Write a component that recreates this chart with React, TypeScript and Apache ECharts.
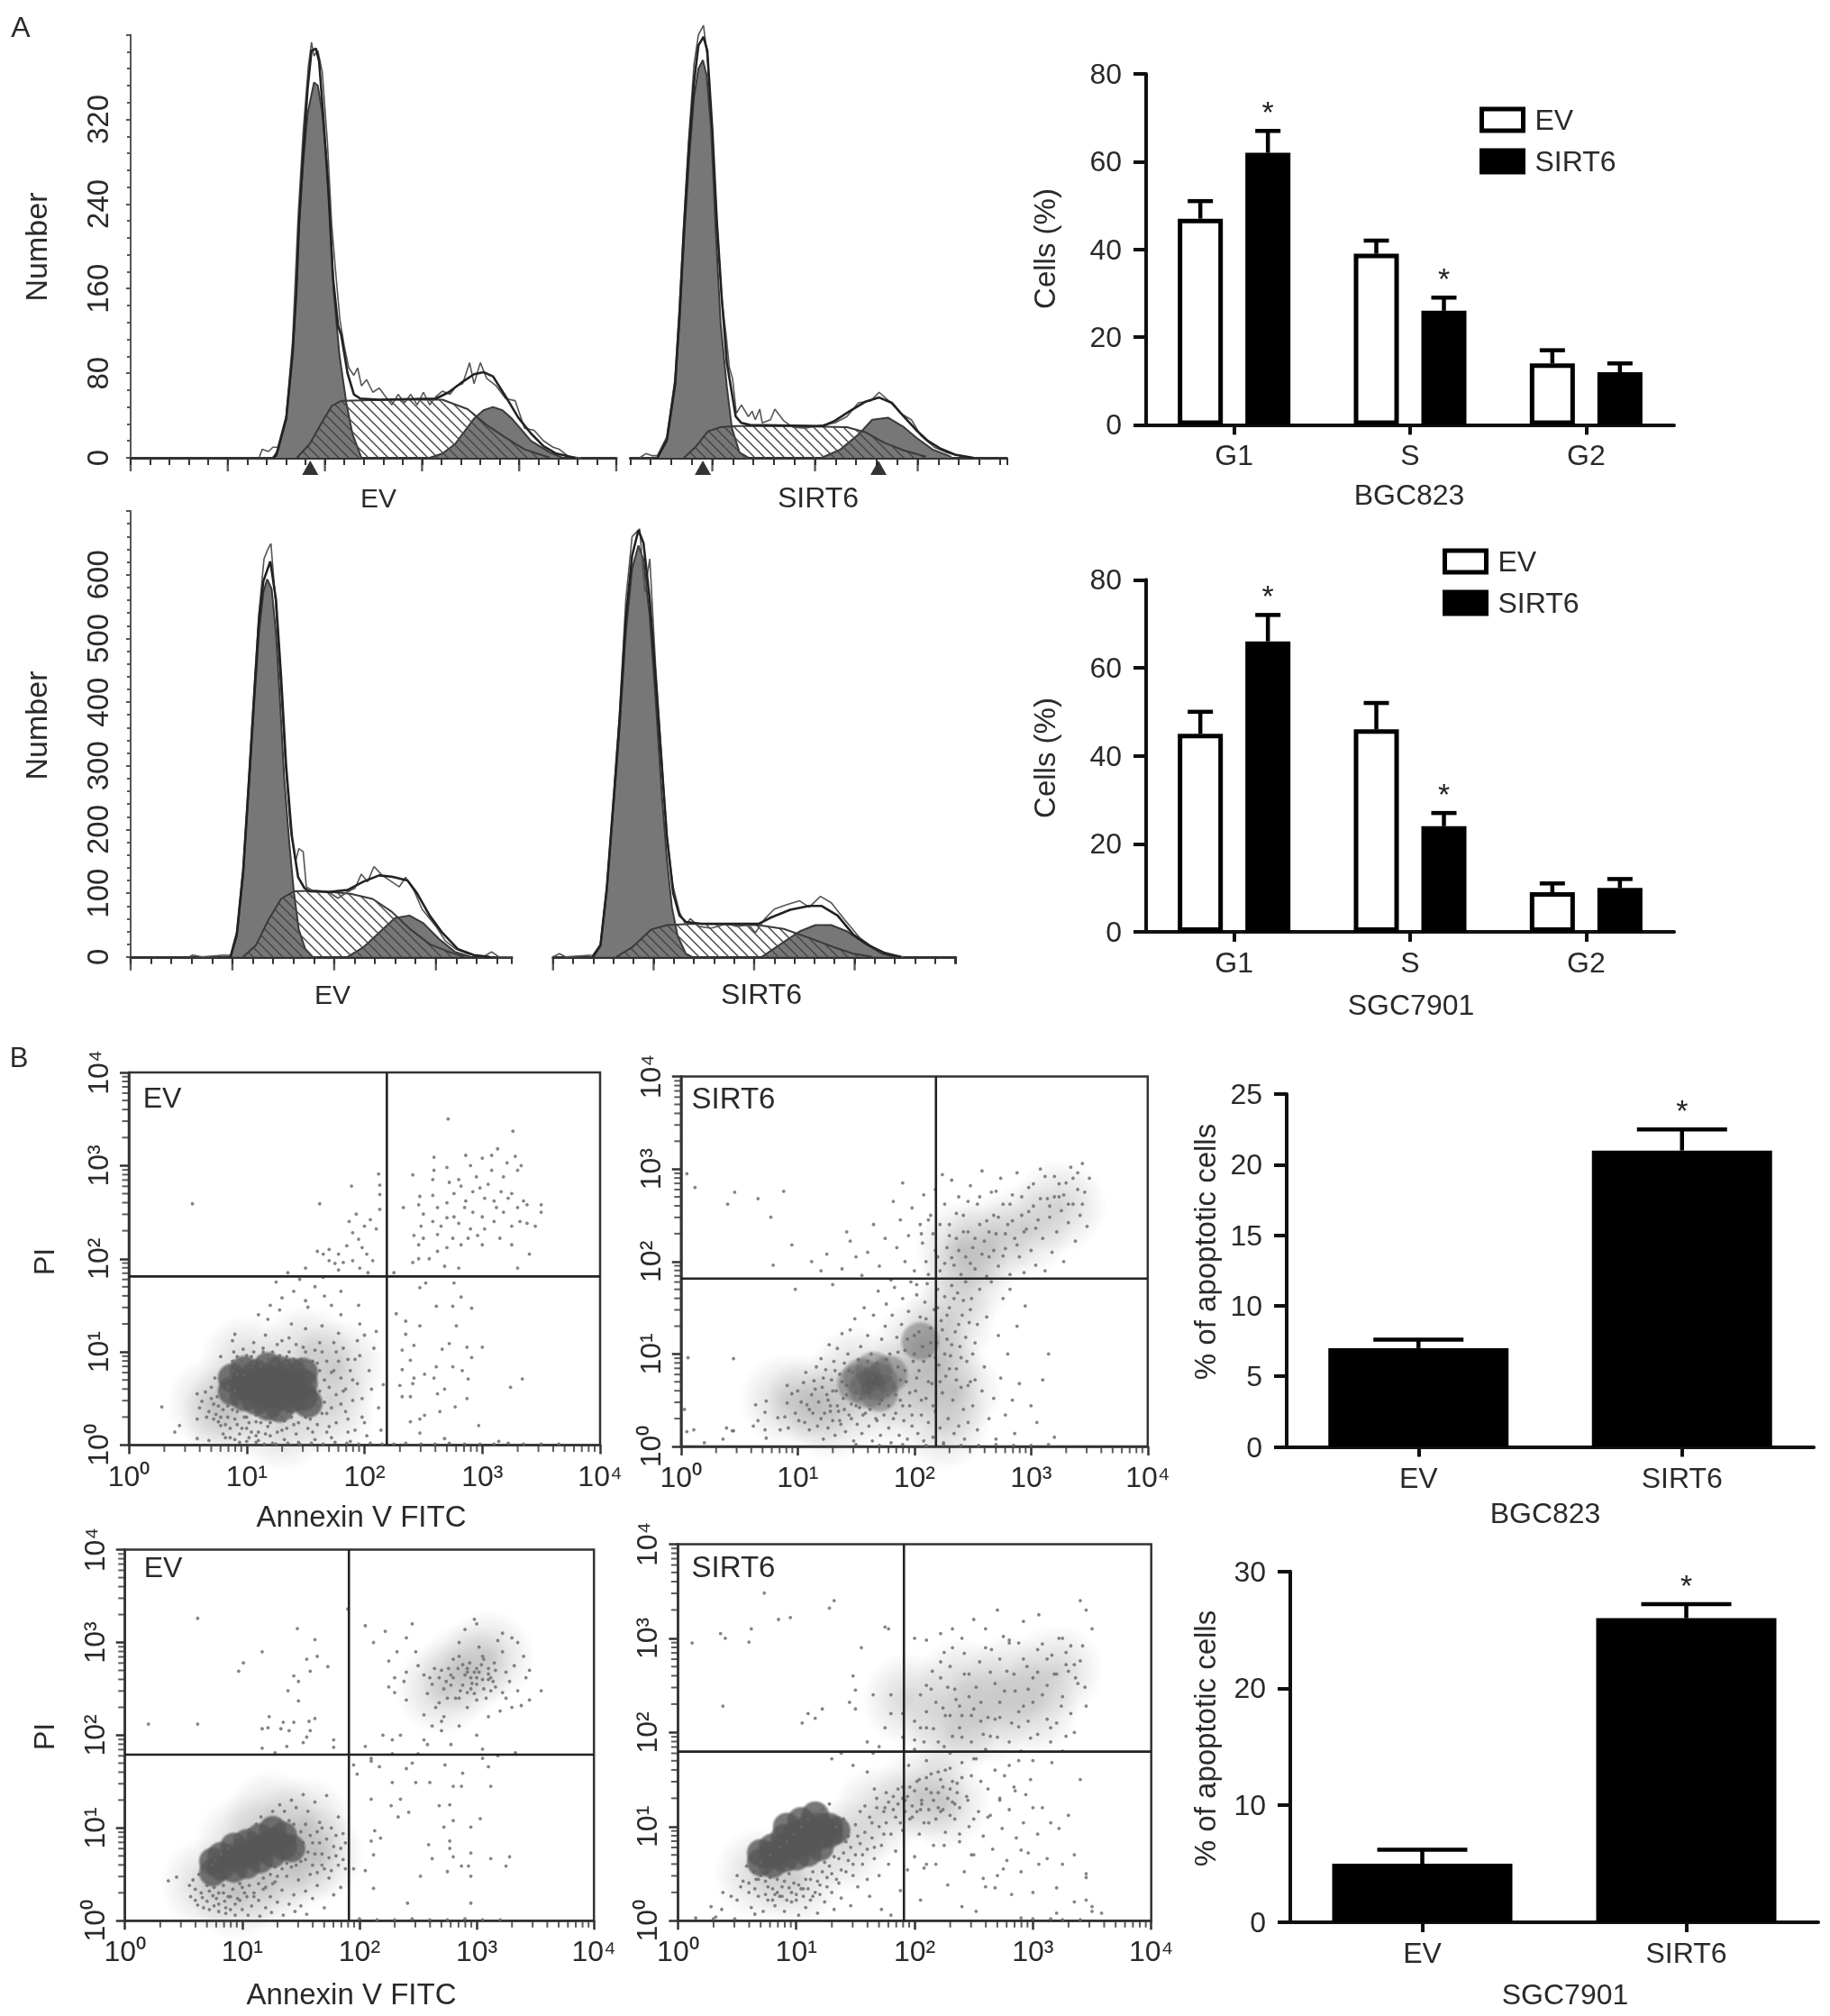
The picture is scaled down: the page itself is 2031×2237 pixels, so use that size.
import React, { useEffect, useRef } from "react";
import * as echarts from "echarts";

const FONT = '"Liberation Sans", Arial, sans-serif';
const INK = "#2a2a2a";

// ---------- Panel A: DNA histograms. [channel, cell count]
const a1G1 = [[225,0],[233,7],[246,37],[256,98],[262,158],[266,219],[273,280],[280,326],[290,355],[296,352],[303,326],[310,280],[316,219],[321,158],[330,98],[341,52],[351,22],[365,0]];
const a1S = [[263,0],[283,13],[303,34],[318,49],[333,54],[413,55],[493,55],[533,46],[563,31],[593,19],[623,8],[663,0]];
const a1G2 = [[473,0],[493,4],[513,13],[543,37],[558,45],[573,48],[588,45],[603,37],[633,16],[663,5],[683,0]];
const a1Fit = [[225,0],[230,2],[246,37],[256,98],[262,158],[266,219],[273,290],[280,350],[286,385],[293,387],[298,375],[305,320],[313,250],[320,170],[328,125],[333,116],[343,80],[353,60],[363,56],[393,55],[483,56],[503,62],[523,71],[543,79],[558,81],[573,77],[593,58],[613,38],[633,23],[653,11],[673,4],[703,0]];
const a1Raw = [[203,0],[208,8],[218,6],[225,10],[233,10],[246,40],[256,110],[265,230],[273,310],[281,370],[286,393],[290,380],[296,385],[303,365],[311,300],[318,220],[325,170],[331,130],[338,105],[345,85],[353,78],[359,85],[365,68],[373,74],[383,62],[393,66],[403,58],[413,50],[423,60],[433,52],[443,60],[453,50],[463,62],[473,50],[483,58],[493,63],[505,60],[515,68],[525,70],[536,90],[543,70],[553,90],[563,75],[578,68],[593,56],[608,54],[623,28],[638,26],[653,16],[668,10],[678,8],[693,1],[713,0]];
const a1Marks = [284];
const a1Major = [0,153.6,307.2,460.8,614.4,768];

const a2G1 = [[43,0],[58,16],[71,67],[78,128],[85,204],[93,280],[101,341],[108,368],[115,376],[121,362],[128,311],[135,219],[143,128],[153,67],[161,28],[173,5],[188,0]];
const a2S = [[85,0],[103,10],[123,25],[143,29],[168,30],[253,30],[343,29],[373,24],[403,14],[433,7],[468,1]];
const a2G2 = [[303,0],[333,8],[363,23],[383,36],[408,38],[433,29],[453,19],[478,8],[508,1]];
const a2Fit = [[43,0],[58,17],[71,70],[78,135],[85,215],[93,295],[101,355],[108,390],[116,398],[122,385],[130,310],[137,225],[145,150],[153,90],[167,39],[176,33],[190,31],[305,30],[324,35],[347,44],[372,53],[394,57],[414,52],[433,39],[453,26],[471,16],[490,9],[514,3],[543,0]];
const a2Raw = [[15,0],[25,4],[35,2],[43,2],[58,20],[71,75],[78,145],[85,225],[93,305],[101,372],[108,400],[116,409],[122,380],[130,300],[138,215],[145,150],[152,115],[157,85],[162,75],[168,42],[176,50],[187,39],[193,44],[198,36],[205,46],[209,33],[222,36],[229,46],[243,35],[257,29],[276,28],[305,31],[324,33],[343,39],[361,52],[381,54],[394,62],[411,53],[428,42],[445,36],[460,21],[481,10],[500,5],[521,2],[533,0]];
const a2Marks = [115,393];
const a2Major = [130,292.5,455];

const a3G1 = [[158,0],[168,33],[178,129],[188,280],[196,407],[203,508],[210,573],[216,593],[223,578],[230,508],[236,407],[243,280],[251,179],[258,104],[266,43],[276,13],[288,0]];
const a3S = [[178,0],[198,18],[218,58],[238,91],[258,103],[293,104],[348,99],[383,91],[413,71],[443,43],[473,20],[503,8],[528,0]];
const a3G2 = [[343,0],[368,15],[393,38],[418,61],[441,65],[463,53],[488,28],[513,8],[538,0]];
const a3Fit = [[158,0],[168,36],[178,135],[188,290],[196,420],[203,530],[210,590],[221,621],[230,560],[238,440],[246,300],[255,190],[265,125],[275,108],[283,103],[313,102],[343,105],[368,118],[393,128],[413,126],[438,120],[453,100],[473,65],[493,38],[518,12],[543,3],[568,0]];
const a3Raw = [[93,0],[98,3],[113,0],[138,2],[148,3],[158,2],[168,40],[178,140],[188,300],[196,430],[203,540],[211,625],[217,640],[222,649],[229,560],[237,430],[245,300],[253,200],[261,150],[266,170],[273,165],[278,110],[288,104],[313,102],[328,92],[343,102],[355,108],[365,130],[375,118],[385,142],[398,128],[413,118],[425,110],[435,125],[448,105],[461,75],[483,48],[498,25],[515,12],[533,5],[558,0],[571,8],[583,0],[603,0]];
const a3Major = [0,161,322,483];

const a4G1 = [[63,0],[75,18],[85,104],[97,255],[105,356],[115,508],[125,609],[135,646],[143,624],[153,533],[162,407],[172,255],[180,154],[188,78],[197,33],[210,5],[220,0]];
const a4S = [[100,0],[125,15],[155,43],[180,50],[225,52],[325,50],[365,44],[405,30],[445,15],[475,5],[505,0]];
const a4G2 = [[330,0],[360,20],[390,40],[415,50],[440,50],[465,40],[490,23],[520,5],[540,0]];
const a4Fit = [[63,0],[75,18],[85,108],[97,262],[105,370],[115,530],[125,630],[135,670],[143,650],[153,560],[162,440],[172,300],[180,190],[190,100],[200,65],[210,55],[235,52],[325,52],[345,62],[375,74],[405,80],[425,80],[450,65],[475,35],[500,18],[525,6],[550,0]];
const a4Raw = [[0,0],[10,5],[20,0],[50,2],[63,3],[75,20],[85,110],[97,270],[105,380],[115,560],[125,660],[137,672],[145,573],[153,625],[162,460],[172,310],[180,190],[190,110],[200,70],[210,50],[217,60],[230,48],[250,45],[275,52],[290,48],[310,50],[320,38],[335,60],[350,75],[370,82],[390,88],[405,78],[423,95],[440,85],[460,60],[485,30],[510,12],[535,3],[555,0]];
const a4Major = [0,159,318,477];

// ---------- Panel A: bar charts
const phases = ["G1","S","G2"];
const bgcEV = [47,39,14];
const bgcEVErr = [4,3,3];
const bgcSIRT = [62,26,12];
const bgcSIRTErr = [5,3,2];
const bgcStars = [1,1,0];
const sgcEV = [45,46,9];
const sgcEVErr = [5,6,2];
const sgcSIRT = [66,24,10];
const sgcSIRTErr = [6,3,2];
const sgcStars = [1,1,0];

// ---------- Panel B: bar charts
const groups = ["EV","SIRT6"];
const apoBgc = [7,21];
const apoBgcErr = [0.6,1.5];
const apoBgcStars = [0,1];
const apoSgc = [5,26];
const apoSgcErr = [1.2,1.2];
const apoSgcStars = [0,1];

// ---------- Panel B: dot plots, in hundredths of a decade: x, y, x, y ...
const decadeLabels = ["10\u2070","10\u00b9","10\u00b2","10\u00b3","10\u2074"];
const minorDecades = [0.301,0.477,0.602,0.699,0.778,0.845,0.903,0.954];

const s1Gate = [2.19,1.81];
const s1Core = [88,58,88,72,98,52,98,65,98,80,108,48,108,62,108,76,118,42,118,56,118,70,118,84,128,40,128,54,128,68,128,80,138,50,138,64,138,78,148,52,148,66,148,78,152,45];
const s1Halo = [85,35,100,90,130,22,150,100,170,40,178,85,72,45];
const s1Dots = [28,41,39,14,43,21,58,55,58,28,58,7,65,57,68,36,68,5,73,72,75,52,78,21,89,100,90,119,97,103,60,40,62,47,66,30,70,62,72,44,74,33,76,25,78,60,80,38,80,12,82,70,84,48,84,30,86,18,86,8,88,80,90,58,92,36,92,22,94,12,94,3,96,90,98,75,100,30,100,18,102,8,104,95,106,110,108,25,110,14,110,5,112,85,114,100,116,118,118,135,118,20,120,10,122,2,124,88,126,108,128,145,130,30,130,16,132,6,134,95,136,115,138,130,140,22,142,12,144,3,146,92,148,105,150,125,152,148,154,28,156,14,158,6,160,88,162,110,164,128,166,160,168,34,170,20,172,8,174,80,176,100,178,120,180,140,182,58,184,36,186,14,188,4,190,70,192,92,194,112,196,130,198,50,200,24,202,10,204,80,206,60,208,104,210,122,212,40,214,16,216,65,150,155,158,170,172,150,140,165,130,158,120,150,110,140,125,175,135,185,145,178,165,180,180,165,195,150,200,118,88,112,78,95,82,8,90,6,100,4,108,3,115,1,125,1,135,2,145,1,155,2,165,1,175,3,185,2,195,1,205,2,215,1,
 70,50,72,28,76,42,78,30,80,52,82,22,84,42,84,62,86,72,88,38,88,90,90,28,92,76,92,95,94,46,96,84,96,18,98,30,100,88,100,96,102,24,104,14,106,88,106,100,108,32,108,10,110,92,112,24,114,104,116,30,116,12,118,92,120,24,122,100,124,28,126,14,128,96,130,112,132,26,134,88,134,18,136,100,138,30,140,92,142,108,144,24,146,36,148,90,150,30,150,100,152,18,154,38,156,90,158,102,160,42,160,22,162,58,162,80,164,34,164,100,166,46,166,70,168,90,168,14,170,62,172,40,172,78,174,110,176,24,176,54,178,90,180,44,180,72,182,104,184,60,186,28,186,92,188,80,190,48,192,16,194,66,196,96,198,30,
 227,141,235,133,235,119,232,102,242,107,247,169,252,174,276,174,282,159,261,149,275,149,291,147,278,128,247,128,272,109,266,103,287,105,300,105,291,94,239,91,232,81,261,84,275,84,283,80,242,72,251,76,259,72,288,71,334,71,324,62,241,66,230,64,268,60,262,55,232,52,239,52,287,50,277,41,264,36,251,32,247,28,239,25,297,21,247,13,268,7,314,4,225,1,235,2,248,1,260,1,272,2,285,1,298,1,310,1,322,2,335,1,350,1,365,1,
 54,259,162,259,271,350,326,337,189,278,212,291,213,279,213,269,213,253,193,248,187,240,190,228,195,221,200,235,205,242,210,232,198,212,202,205,207,198,185,214,178,205,170,210,175,195,182,196,190,198,196,190,170,198,165,205,160,208,150,190,178,188,203,185,225,185,241,196,246,200,
 259,309,286,311,313,318,300,308,308,311,328,310,333,300,330,295,321,303,259,295,258,285,241,290,247,267,246,258,233,255,258,268,262,255,270,260,272,282,270,298,280,285,282,278,276,270,286,262,292,272,298,276,302,265,310,262,316,272,322,265,330,255,338,258,332,240,338,238,350,250,350,258,292,250,300,245,310,240,318,250,325,235,290,232,280,238,270,244,262,226,250,248,248,235,242,225,246,215,255,200,262,208,275,222,288,222,300,215,315,222,325,215,340,205,330,190,280,190,268,192,
 290,300,305,280,285,255,295,288,308,295,318,288,325,270,312,255,276,245,302,232,265,235,258,240,250,222,270,212,282,215,296,225,345,235,335,262];

const s2Gate = [2.185,1.815];
const s2Core = [150,68,160,62,170,70,178,78,165,82,155,75,170,58,205,114];
const s2Halo = [90,50,115,50,130,35,150,80,175,50,190,70,205,110,220,85,230,135,235,60,225,25,240,215,265,220,245,180,295,235,325,260];
const s2Dots = [3,40,11,18,5,16,20,4,36,8,39,20,44,17,66,28,73,9,45,17,62,22,64,45,72,37,73,49,72,18,83,31,85,18,91,47,89,32,91,66,92,20,95,57,98,36,100,60,101,28,103,48,105,69,106,26,107,80,108,45,110,18,112,56,113,36,114,71,116,86,117,22,118,48,120,95,121,64,122,8,123,36,124,83,125,56,126,20,127,110,128,44,129,72,130,28,131,92,132,12,133,60,134,106,135,38,136,78,137,24,138,122,139,52,140,90,141,16,142,66,143,100,144,34,145,126,146,46,147,80,148,6,149,138,150,58,151,24,152,94,153,42,154,108,155,14,156,70,157,150,158,36,159,84,160,120,161,22,162,52,163,100,164,6,165,142,166,64,167,30,168,90,169,168,170,46,171,12,172,116,173,76,174,34,175,130,176,154,177,56,178,20,179,100,180,4,181,142,182,66,183,172,184,36,185,118,186,86,187,12,188,50,189,132,190,160,191,28,192,104,193,70,194,8,195,146,196,44,197,178,198,22,199,92,200,120,201,60,202,164,203,14,204,82,205,140,206,34,207,108,208,6,209,156,210,52,211,176,212,26,213,98,214,128,215,68,216,10,217,148,218,38,219,112,220,170,221,88,222,20,223,136,224,58,225,4,226,162,227,76,228,116,229,30,230,150,231,98,232,174,233,50,234,14,235,124,236,84,237,166,238,22,239,108,240,64,241,142,242,40,243,8,244,178,245,92,246,26,247,134,248,70,249,160,250,44,252,112,254,18,256,170,258,60,260,86,262,140,264,30,266,178,268,52,270,8,272,120,274,74,276,160,278,34,280,100,282,170,284,50,286,14,288,130,290,68,295,152,300,44,305,26,310,72,315,100,320,10,
 5,295,12,280,46,275,66,268,77,248,88,276,79,196,98,170,6,96,45,95,40,262,95,218,112,200,120,190,125,208,130,175,138,192,142,232,145,222,150,205,155,185,160,210,165,240,170,195,175,225,180,180,182,265,185,215,188,245,190,285,192,200,195,228,198,258,200,190,202,175,205,240,207,220,208,272,210,200,212,186,214,250,216,230,218,278,220,205,222,190,224,294,226,262,228,215,230,240,232,288,234,196,236,225,238,270,240,186,242,250,244,205,246,232,248,282,250,215,252,192,254,262,256,240,258,298,260,222,262,184,264,205,266,275,268,250,270,230,272,195,274,290,276,262,278,214,280,240,282,186,284,272,286,225,288,296,290,205,292,250,294,188,296,235,298,280,300,212,302,260,304,196,306,245,308,300,310,225,312,190,314,268,316,248,318,210,320,292,322,232,324,270,326,255,328,200,330,285,332,242,334,302,336,262,338,222,340,296,342,250,344,306,346,275,348,238,350,290,
 110,40,115,62,120,30,122,74,126,50,128,38,130,60,132,82,134,44,136,28,138,70,140,40,142,56,144,82,146,30,148,68,150,44,152,76,154,52,156,34,158,64,160,92,162,40,164,74,166,56,168,28,170,82,172,50,174,66,176,94,178,44,180,74,182,30,184,56,186,102,188,72,190,44,192,82,194,116,196,58,198,34,200,100,202,74,204,124,206,50,208,92,210,138,212,70,214,112,216,44,218,96,220,150,222,70,224,126,226,100,228,142,230,84,232,110,234,160,236,72,238,132,240,96,242,158,244,118,246,66,248,148,250,100,252,72,254,132,
 150,2,170,1,190,2,210,1,225,2,240,1,255,1,270,2,285,1,300,1,315,2,
 206,230,212,245,218,212,222,240,226,198,230,228,232,204,236,252,238,212,242,232,246,265,248,198,252,225,256,270,258,208,262,244,264,232,268,212,270,276,272,248,276,206,278,230,282,262,284,244,288,218,292,270,294,232,298,254,302,284,304,236,308,268,312,292,316,260,320,270,324,284,328,272,332,262,336,290,340,278,344,262];

const s3Gate = [1.91,1.79];
const s3Core = [75,52,75,64,82,58,82,70,93,56,93,68,93,80,104,60,104,72,104,84,115,66,115,78,115,90,126,72,126,85,126,98,135,80,135,92,142,78];
const s3Halo = [70,40,95,30,120,42,145,60,165,72,155,105,125,112,100,85,290,270,270,250,310,285];
const s3Dots = [37,43,44,47,55,38,56,26,58,44,60,34,60,22,62,17,63,50,65,30,66,25,67,14,68,55,70,38,70,21,72,32,72,12,74,60,75,27,76,16,77,65,78,24,80,18,80,10,82,72,84,30,85,21,86,14,86,8,88,78,90,26,90,12,92,84,94,18,94,6,96,90,98,22,100,36,100,12,102,94,104,26,105,6,106,98,108,16,110,30,112,104,114,22,115,5,116,112,118,34,120,14,122,108,124,26,125,9,126,118,128,42,130,20,132,125,134,33,135,6,136,118,138,48,140,18,142,130,144,28,145,10,146,122,148,44,150,16,152,136,154,32,155,7,156,118,158,50,160,24,162,128,164,38,166,106,168,60,170,14,172,135,174,46,176,100,178,28,180,70,182,112,184,36,186,94,188,56,
 72,48,76,36,80,30,84,38,88,26,92,34,96,24,98,40,102,30,106,38,110,26,114,40,118,46,120,36,124,50,126,40,128,58,130,48,132,108,134,56,136,104,138,62,140,108,142,58,144,104,146,60,148,72,150,64,150,96,152,84,154,66,154,104,156,74,158,92,160,60,160,84,162,72,164,96,164,52,166,84,168,72,168,100,170,56,172,88,174,68,176,54,178,80,180,92,182,60,184,78,186,66,188,84,
 195,56,205,54,195,168,198,158,210,175,217,166,228,149,240,164,248,149,260,149,273,168,288,159,280,145,287,145,312,145,310,166,305,175,318,178,333,181,210,131,235,131,227,124,233,112,242,117,268,124,277,125,280,108,272,101,295,101,303,110,213,97,218,89,210,86,212,71,259,82,277,86,277,78,295,73,280,69,262,67,287,59,293,59,312,67,328,69,325,59,275,53,252,48,295,48,212,35,241,19,295,19,200,2,215,1,230,1,245,2,260,1,275,1,290,2,305,1,320,1,
 62,326,20,212,62,212,101,278,97,269,117,290,147,315,162,303,155,282,164,285,173,274,158,269,144,264,148,258,139,248,148,237,123,220,135,214,144,214,157,215,162,218,117,207,122,208,133,207,140,205,158,205,155,198,138,188,152,192,178,195,178,187,117,186,190,336,128,181,
 205,318,212,300,222,312,225,280,232,290,238,258,240,305,245,320,248,290,240,268,225,252,230,262,250,275,255,265,258,245,262,255,268,235,272,220,275,240,278,265,280,282,285,300,290,314,292,272,295,250,298,325,300,255,302,295,305,285,308,240,310,260,312,248,315,278,318,302,320,226,322,290,325,268,328,258,330,305,332,275,335,248,338,232,340,285,342,262,345,270,
 230,246,240,238,255,222,265,230,270,205,262,210,255,195,250,180,245,170,235,200,228,195,205,188,210,172,220,200,228,180,258,190,270,215,278,190,285,210,292,230,300,200,305,185,310,220,285,240,
 285,285,290,265,295,262,300,272,302,268,305,260,292,268,296,256,288,254,280,262,276,272,272,250,268,262,310,272,312,262,306,250,298,245,316,252,322,246,282,240,284,272,288,276,294,278,298,268,300,262,304,276,306,282,310,266,314,258,278,254,274,258,270,270,264,272,260,262,292,246,286,248,300,238,316,270,
 355,248,345,238,335,300,322,310,300,320,325,240,330,230];

const s4Gate = [1.91,1.796];
const s4Core = [70,62,70,72,80,60,80,70,80,78,90,66,90,78,90,88,92,100,100,68,100,80,100,92,104,106,110,72,110,85,110,98,116,112,120,78,120,90,120,100,128,92,128,100,134,96];
const s4Halo = [70,50,100,45,140,80,170,115,205,135,225,125,240,250,280,255,320,265,260,215,230,200,300,225,195,235];
const s4Dots = [15,3,30,2,28,15,32,4,37,12,38,30,48,2,45,26,50,22,50,48,53,36,55,42,58,58,60,30,62,14,65,7,65,34,68,44,70,62,72,10,74,28,76,36,78,70,80,22,82,16,84,30,86,78,88,26,90,10,92,84,94,35,96,20,98,92,100,28,102,6,104,100,106,34,108,14,110,108,112,44,114,26,116,114,118,8,120,38,122,118,124,20,126,46,128,124,130,30,132,12,134,100,136,40,138,24,140,108,142,52,144,90,146,16,148,60,150,102,152,36,154,116,156,70,158,122,160,44,162,26,164,104,166,78,168,130,170,48,172,12,174,92,176,136,178,60,180,6,182,118,184,74,186,140,188,32,190,96,192,128,194,54,196,142,198,110,200,68,202,148,204,92,206,124,208,56,210,152,212,104,214,136,216,80,218,60,220,158,222,116,224,142,226,94,228,38,230,162,232,126,234,108,236,146,238,84,240,168,242,52,244,132,246,100,248,154,250,70,252,172,254,116,256,148,258,90,260,36,262,140,264,112,266,76,268,160,270,48,272,128,274,98,276,154,278,64,280,118,282,28,284,142,286,88,288,170,290,52,292,104,294,134,296,72,298,150,300,30,304,92,308,120,312,66,316,168,320,8,325,60,330,112,335,20,340,150,345,46,350,10,
 12,295,38,228,36,305,40,300,62,310,60,296,73,348,85,320,95,322,105,210,132,340,150,245,155,290,180,240,175,312,178,310,128,332,148,260,110,220,116,215,122,225,130,172,138,178,148,165,165,178,190,220,200,192,210,205,225,185,
 145,232,150,225,165,240,175,205,180,220,170,185,160,190,160,158,166,140,175,120,195,165,205,205,210,250,215,265,222,275,225,285,232,310,228,248,235,235,230,218,238,205,242,262,246,238,250,225,255,275,258,198,262,216,265,288,268,252,272,232,275,302,278,265,282,210,285,244,288,295,292,228,295,270,298,194,300,258,304,288,308,240,312,278,315,205,318,262,322,300,325,238,328,285,332,220,335,272,338,252,342,292,345,228,
 200,300,210,298,222,305,232,290,240,300,250,320,260,310,270,330,280,295,292,318,305,325,325,300,330,265,345,330,340,340,350,310,
 190,195,200,182,210,170,220,190,230,178,240,195,250,172,260,182,270,195,280,165,290,180,300,170,315,190,325,180,335,200,
 190,130,205,118,220,120,230,140,245,128,250,108,262,110,272,130,285,138,300,120,315,104,322,98,335,70,345,50,345,22,358,8,350,15,340,1,315,2,325,1,300,2,290,3,
 210,60,225,80,238,92,248,70,258,45,275,55,290,75,305,60,320,35,205,22,240,15,252,10,268,35,
 60,40,64,52,66,44,68,26,70,48,72,54,74,42,76,22,78,46,80,34,82,28,84,44,86,26,88,36,90,42,92,22,94,50,96,30,98,40,100,22,102,38,104,34,106,26,108,44,110,34,112,22,114,52,116,30,118,42,120,28,122,52,124,62,126,36,128,58,130,50,132,68,134,44,136,66,138,54,140,72,142,84,144,64,146,78,148,48,150,70,152,90,154,82,156,60,158,94,160,76,162,110,164,88,166,66,168,120,170,100,172,80,174,116,176,104,178,126,180,92,182,132,184,110,186,124,188,104,190,142,192,116,194,132,196,108,198,122,200,138,202,116,204,150,206,128,208,104,210,140,212,118,214,156,216,128,218,108,220,136,222,150,224,118,226,160,228,130,230,112,232,148,234,124,236,136,238,120,240,152,
 205,240,210,222,214,246,218,232,222,258,226,218,230,270,234,246,238,228,242,284,246,262,248,218,252,248,256,232,260,290,264,264,268,214,272,278,276,244,280,298,284,262,288,222,292,278,296,246,300,232,304,264,308,294,312,250,316,282,320,262,324,228,328,272,332,292,336,258,340,276,344,248,
 200,212,208,190,216,204,224,226,232,196,240,218,248,190,256,212,264,196,272,216,280,190,288,206,296,212,304,198,312,214,320,210,328,196];

const pairs = (flat: number[]) => {
  const out: number[][] = [];
  for (let i = 0; i < flat.length; i += 2) out.push([flat[i] / 100, flat[i + 1] / 100]);
  return out;
};

const hatchTile = () => {
  const c = document.createElement("canvas");
  c.width = 11;
  c.height = 11;
  const g = c.getContext("2d")!;
  g.strokeStyle = "#444";
  g.lineWidth = 1.4;
  g.beginPath();
  g.moveTo(-2, -2); g.lineTo(13, 13);
  g.moveTo(-2, 9); g.lineTo(2, 13);
  g.moveTo(9, -2); g.lineTo(13, 2);
  g.stroke();
  return c;
};

export default function App() {
  const ref = useRef<HTMLDivElement>(null);
  useEffect(() => {
    const chart = echarts.init(ref.current!, null, { renderer: "svg" });
    const hatch = { image: hatchTile(), repeat: "repeat" };

    const grids: any[] = [];
    const xAxes: any[] = [];
    const yAxes: any[] = [];
    const series: any[] = [];

    const addGrid = (left: number, top: number, width: number, height: number, x: any, y: any, extra: any = {}) => {
      grids.push({ left, top, width, height, ...extra });
      xAxes.push({ gridIndex: grids.length - 1, ...x });
      yAxes.push({ gridIndex: grids.length - 1, ...y });
      return grids.length - 1;
    };

    // Histograms
    const hist = (g: any) => {
      const xCfg = {
        type: "value", min: 0, max: g.max, interval: g.minor,
        axisLine: { show: true, onZero: false, lineStyle: { color: "#333", width: 3 } },
        axisTick: { show: true, length: 8, lineStyle: { color: "#333", width: 2 } },
        axisLabel: { show: false }, splitLine: { show: false },
      };
      const yCfg: any = g.showY ? {
        type: "value", min: 0, max: g.yMax, interval: g.yInt,
        axisLine: { show: true, lineStyle: { color: "#555", width: 2 } },
        axisTick: { show: true, length: 5, lineStyle: { color: "#555", width: 2 } },
        minorTick: { show: true, splitNumber: 5, length: 4, lineStyle: { color: "#555", width: 2 } },
        axisLabel: {
          rotate: 90, fontFamily: FONT, fontSize: 33, color: INK, margin: 20,
          formatter: (v: number) => (v >= g.yMax ? "" : String(v)),
        },
        splitLine: { show: false },
      } : { type: "value", min: 0, max: g.yMax, interval: g.yInt, show: false };
      const i = addGrid(g.left, g.top, g.width, g.height, xCfg, yCfg);
      const line = (data: number[][], width: number, color: string, area?: any, z = 2) => ({
        type: "line", xAxisIndex: i, yAxisIndex: i, data, showSymbol: false, clip: false, silent: true, z,
        lineStyle: { color, width }, itemStyle: { color }, areaStyle: area,
      });
      series.push(line(g.g1, 2, "#3a3a3a", { color: "#777", opacity: 1 }, 2));
      series.push(line(g.g2, 2, "#3a3a3a", { color: "#777", opacity: 1 }, 2));
      series.push(line(g.s, 2, "#3a3a3a", { color: hatch, opacity: 1 }, 3));
      series.push(line(g.raw, 1.6, "#555", undefined, 4));
      series.push(line(g.fit, 2.6, "#222", undefined, 5));
      series.push({
        type: "scatter", xAxisIndex: i, yAxisIndex: i, clip: false, silent: true, z: 6,
        data: g.major.map((m: number) => [m, 0]), symbol: "rect", symbolSize: [2.4, 15], symbolOffset: [0, 7.5],
        itemStyle: { color: "#333" },
      });
      if (g.marks) series.push({
        type: "scatter", xAxisIndex: i, yAxisIndex: i, clip: false, silent: true, z: 6,
        data: g.marks.map((m: number) => [m, 0]), symbol: "triangle", symbolSize: [18, 16], symbolOffset: [0, 11],
        itemStyle: { color: "#000" },
      });
    };
    hist({ left: 145, top: 38.6, width: 539, height: 469.4, max: 768, minor: 30.72, yMax: 400, yInt: 80, showY: true, g1: a1G1, s: a1S, g2: a1G2, fit: a1Fit, raw: a1Raw, major: a1Major, marks: a1Marks });
    hist({ left: 699.4, top: 38.6, width: 418, height: 469.4, max: 596, minor: 32.5, yMax: 400, yInt: 80, showY: false, g1: a2G1, s: a2S, g2: a2G2, fit: a2Fit, raw: a2Raw, major: a2Major, marks: a2Marks });
    hist({ left: 145, top: 567.1, width: 423, height: 494.7, max: 603, minor: 32.2, yMax: 700, yInt: 100, showY: true, g1: a3G1, s: a3S, g2: a3G2, fit: a3Fit, raw: a3Raw, major: a3Major });
    hist({ left: 613.8, top: 567.1, width: 447, height: 494.7, max: 637, minor: 31.8, yMax: 700, yInt: 100, showY: false, g1: a4G1, s: a4S, g2: a4G2, fit: a4Fit, raw: a4Raw, major: a4Major });

    // Bar charts
    const barAxes = (cats: string[], yMax: number, yInt: number) => ({
      x: {
        type: "category", data: cats,
        axisLine: { show: true, lineStyle: { color: "#111", width: 4 } },
        axisTick: { show: true, alignWithLabel: true, length: 11, lineStyle: { color: "#111", width: 4 } },
        axisLabel: { fontFamily: FONT, fontSize: 32, color: INK, margin: 18 },
      },
      y: {
        type: "value", min: 0, max: yMax, interval: yInt,
        axisLine: { show: true, lineStyle: { color: "#111", width: 4 } },
        axisTick: { show: true, length: 14, lineStyle: { color: "#111", width: 4 } },
        axisLabel: { fontFamily: FONT, fontSize: 32, color: INK, margin: 27 },
        splitLine: { show: false },
      },
    });
    const errors = (i: number, vals: number[], errs: number[], stars: number[], dodge: number, cap: number) => ({
      type: "custom", xAxisIndex: i, yAxisIndex: i, silent: true, z: 5, clip: false,
      data: vals.map((v, k) => [k, v, errs[k], stars[k]]),
      encode: { x: 0, y: 1 },
      renderItem: (_: any, api: any) => {
        const base = api.coord([api.value(0), api.value(1)]);
        const top = api.coord([api.value(0), api.value(1) + api.value(2)]);
        const x = base[0] + dodge;
        const st = { stroke: "#000", lineWidth: 4.5 };
        const children: any[] = [
          { type: "line", shape: { x1: x, y1: base[1], x2: x, y2: top[1] }, style: st },
          { type: "line", shape: { x1: x - cap, y1: top[1], x2: x + cap, y2: top[1] }, style: st },
        ];
        if (api.value(3)) children.push({
          type: "text",
          style: { text: "*", x, y: top[1] - 21, textAlign: "center", textVerticalAlign: "middle", font: `34px ${FONT}`, fill: "#222" },
        });
        return { type: "group", children };
      },
    });
    const dodgeBars = (left: number, top: number, height: number, ev: number[], evE: number[], si: number[], siE: number[], st: number[]) => {
      const a = barAxes(phases, 80, 20);
      const i = addGrid(left, top, 586, height, a.x, a.y);
      const bar = (name: string, data: number[], color: string) => ({
        type: "bar", name, xAxisIndex: i, yAxisIndex: i, data, barWidth: 50, barGap: "50%", silent: true, z: 3,
        itemStyle: { color, borderColor: "#000", borderWidth: 5 },
      });
      series.push(bar("EV", ev, "#fff"), bar("SIRT6", si, "#000"));
      series.push(errors(i, ev, evE, ev.map(() => 0), -37.5, 14));
      series.push(errors(i, si, siE, st, 37.5, 14));
    };
    dodgeBars(1272, 82, 389.4, bgcEV, bgcEVErr, bgcSIRT, bgcSIRTErr, bgcStars);
    dodgeBars(1272, 643.3, 390.7, sgcEV, sgcEVErr, sgcSIRT, sgcSIRTErr, sgcStars);

    const singleBars = (left: number, top: number, width: number, height: number, yMax: number, yInt: number, v: number[], e: number[], st: number[]) => {
      const a = barAxes(groups, yMax, yInt);
      const i = addGrid(left, top, width, height, a.x, a.y);
      series.push({
        type: "bar", name: "apoptotic" + i, xAxisIndex: i, yAxisIndex: i, data: v, barWidth: 200, silent: true, z: 3,
        itemStyle: { color: "#000" },
      });
      series.push(errors(i, v, e, st, 0, 50));
    };
    singleBars(1428, 1214, 585, 391.5, 25, 5, apoBgc, apoBgcErr, apoBgcStars);
    singleBars(1432, 1743.7, 586, 389.3, 30, 10, apoSgc, apoSgcErr, apoSgcStars);

    // Dot plots
    const soft = (r: number, g: number, b: number, a: number, solidTo: number) =>
      new echarts.graphic.RadialGradient(0.5, 0.5, 0.5, [
        { offset: 0, color: `rgba(${r},${g},${b},${a})` },
        { offset: solidTo, color: `rgba(${r},${g},${b},${a})` },
        { offset: 1, color: `rgba(${r},${g},${b},0)` },
      ]);
    const dotPlot = (left: number, top: number, width: number, height: number, gate: number[], core: number[], halo: number[], dots: number[], coreSize: number, coreAlpha: number) => {
      const axisCommon = {
        type: "value", min: 0, max: 4, interval: 1,
        axisLine: { show: true, onZero: false, lineStyle: { color: "#333", width: 2.5 } },
        axisTick: { show: true, length: 10, lineStyle: { color: "#333", width: 2.5 } },
        splitLine: { show: false },
      };
      const lab = { fontFamily: FONT, fontSize: 32, color: INK, formatter: (v: number) => decadeLabels[v] };
      const i = addGrid(left, top, width, height,
        { ...axisCommon, axisLabel: { ...lab, margin: 18 } },
        { ...axisCommon, axisLabel: { ...lab, rotate: 90, margin: 18 } },
        { show: true, borderColor: "#333", borderWidth: 2.5, backgroundColor: "#fff" });
      const scat = (data: number[][], size: any, color: any, z: number, extra: any = {}) => ({
        type: "scatter", xAxisIndex: i, yAxisIndex: i, data, symbolSize: size, clip: false, silent: true, z,
        itemStyle: { color }, ...extra,
      });
      series.push(scat(pairs(halo), 105, soft(110, 110, 110, 0.36, 0), 2));
      series.push(scat(pairs(core), coreSize, soft(86, 86, 86, coreAlpha, 0.8), 3));
      series.push(scat(pairs(dots), 3.8, "#666", 4));
      const xm: number[][] = [];
      const ym: number[][] = [];
      [0, 1, 2, 3].forEach((k) => minorDecades.forEach((m) => { xm.push([k + m, 0]); ym.push([0, k + m]); }));
      series.push(scat(xm, [2, 7], "#333", 5, { symbol: "rect", symbolOffset: [0, 4] }));
      series.push(scat(ym, [7, 2], "#333", 5, { symbol: "rect", symbolOffset: [-4, 0] }));
      const gl = (data: number[][]) => ({
        type: "line", xAxisIndex: i, yAxisIndex: i, data, showSymbol: false, silent: true, z: 6,
        lineStyle: { color: "#222", width: 2.6 },
      });
      series.push(gl([[gate[0], 0], [gate[0], 4]]));
      series.push(gl([[0, gate[1]], [4, gate[1]]]));
    };
    dotPlot(143, 1190, 523, 413.5, s1Gate, s1Core, s1Halo, s1Dots, 36, 1);
    dotPlot(755.8, 1194.6, 518, 410.4, s2Gate, s2Core, s2Halo, s2Dots, 46, 0.5);
    dotPlot(138.7, 1719.6, 520.5, 411.7, s3Gate, s3Core, s3Halo, s3Dots, 34, 1);
    dotPlot(752.4, 1713.4, 525.3, 417.9, s4Gate, s4Core, s4Halo, s4Dots, 34, 1);

    const text = (t: string, x: number, y: number, size: number, rot = 0) => ({
      type: "text", x, y, rotation: rot, silent: true,
      style: { text: t, textAlign: "center", textVerticalAlign: "middle", font: `${size}px ${FONT}`, fill: INK },
    });
    const up = Math.PI / 2;
    const graphic = [
      text("A", 23, 30, 32), text("B", 21, 1173, 31),
      text("Number", 40, 274, 34, up), text("Number", 40, 805, 34, up),
      text("EV", 420, 552, 30), text("SIRT6", 908, 552, 32),
      text("EV", 369, 1103, 30), text("SIRT6", 845, 1103, 32),
      text("Cells (%)", 1159, 276, 33, up), text("Cells (%)", 1159, 841, 33, up),
      text("BGC823", 1564, 549, 32), text("SGC7901", 1566, 1115, 32),
      text("% of apoptotic cells", 1337, 1389, 33, up), text("% of apoptotic cells", 1337, 1929, 33, up),
      text("BGC823", 1715, 1679, 32), text("SGC7901", 1737, 2213, 32),
      text("PI", 49, 1400, 32, up), text("PI", 49, 1927, 32, up),
      text("Annexin V FITC", 401, 1682, 33), text("Annexin V FITC", 390, 2212, 33),
      text("EV", 180, 1218, 32), text("SIRT6", 814, 1218, 33),
      text("EV", 181, 1739, 32), text("SIRT6", 814, 1738, 33),
    ];

    const legendBase = {
      orient: "vertical", itemWidth: 46, itemHeight: 24, itemGap: 14, selectedMode: false, icon: "rect",
      textStyle: { fontFamily: FONT, fontSize: 32, color: INK, padding: [0, 0, 0, 8] },
      data: [
        { name: "EV", itemStyle: { color: "#fff", borderColor: "#000", borderWidth: 5 } },
        { name: "SIRT6", itemStyle: { color: "#000", borderColor: "#000", borderWidth: 5 } },
      ],
    };

    chart.setOption({
      animation: false,
      backgroundColor: "#fff",
      grid: grids,
      xAxis: xAxes,
      yAxis: yAxes,
      series,
      legend: [
        { ...legendBase, left: 1637, top: 112 },
        { ...legendBase, left: 1596, top: 602 },
      ],
      graphic,
    });
    return () => chart.dispose();
  }, []);
  return <div ref={ref} style={{ position: "absolute", left: 0, top: 0, width: 2031, height: 2237, filter: "blur(0.6px)" }} />;
}
